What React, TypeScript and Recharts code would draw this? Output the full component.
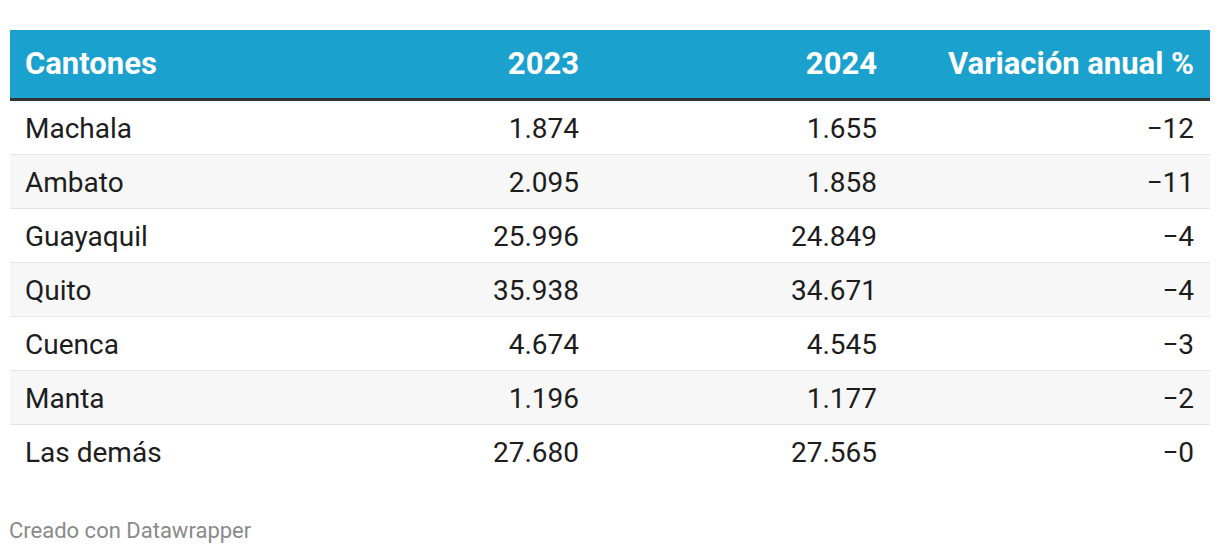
import React from "react";
import { BarChart, Bar, XAxis, YAxis, LabelList, Customized } from "recharts";

const cantones = ["Machala", "Ambato", "Guayaquil", "Quito", "Cuenca", "Manta", "Las demás"];
const valores2023 = [1874, 2095, 25996, 35938, 4674, 1196, 27680];
const valores2024 = [1655, 1858, 24849, 34671, 4545, 1177, 27565];
const variacion = [-12, -11, -4, -4, -3, -2, -0];
const encabezados = ["Cantones", "2023", "2024", "Variación anual %"];
const pie = "Creado con Datawrapper";

const data = cantones.map((c, i) => ({
  canton: c,
  y2023: valores2023[i],
  y2024: valores2024[i],
  variacion: variacion[i],
}));

const W = 1220;
const H = 554;
const FONT = "Roboto, 'Noto Sans', sans-serif";
const TEXT = "#1d1d1d";
const BLUE = "#1aa1cd";

const colX = [25, 579, 877, 1194];
const colAnchor: ("start" | "end")[] = ["start", "end", "end", "end"];

const fmtMiles = (v: number) => String(Math.abs(v)).replace(/\B(?=(\d{3})+(?!\d))/g, ".");
const fmtVar = (v: number) => (v < 0 || Object.is(v, -0) ? "\u2212" : "") + String(Math.abs(v));

const RowBg = (props: any) => {
  const { x, y, width, height, index } = props;
  const fill = index % 2 === 1 ? "#f7f7f7" : "#ffffff";
  return (
    <g>
      <rect x={x} y={y} width={width} height={height} fill={fill} />
      {index < cantones.length - 1 && (
        <rect x={x} y={y + height - 1} width={width} height={1.5} fill="#e6e6e6" />
      )}
    </g>
  );
};

const cell = (col: number, fmt: (v: any) => string) => (props: any) => {
  const { y, height, value } = props;
  return (
    <text
      x={colX[col]}
      y={y + height / 2 + 10.3}
      textAnchor={colAnchor[col]}
      fontFamily={FONT}
      fontSize={28}
      fill={TEXT}
    >
      {fmt(value)}
    </text>
  );
};

const Header = () => (
  <g>
    <rect x={10} y={30} width={1200} height={68} fill={BLUE} />
    <rect x={10} y={98} width={1200} height={3} fill="#333333" />
    {encabezados.map((h, i) => (
      <text
        key={h}
        x={colX[i]}
        y={73.5}
        textAnchor={colAnchor[i]}
        fontFamily={FONT}
        fontWeight={700}
        fontSize={31}
        fill="#ffffff"
      >
        {h}
      </text>
    ))}
    <text x={9} y={537.7} fontFamily={FONT} fontSize={22} fill="#8a8a8a">
      {pie}
    </text>
  </g>
);

export default function App() {
  return (
    <div style={{ position: "absolute", left: 0, top: 0, width: W, height: H, background: "#fff" }}>
      <BarChart
        width={W}
        height={H}
        data={data}
        layout="vertical"
        barCategoryGap={0}
        margin={{ top: 101, right: 10, bottom: 75, left: 10 }}
      >
        <XAxis type="number" hide domain={[0, "dataMax"]} />
        <YAxis type="category" dataKey="canton" hide />
        <Bar
          dataKey="y2023"
          fill="transparent"
          isAnimationActive={false}
          background={RowBg}
        >
          <LabelList dataKey="canton" content={cell(0, (v) => String(v))} />
          <LabelList dataKey="y2023" content={cell(1, fmtMiles)} />
          <LabelList dataKey="y2024" content={cell(2, fmtMiles)} />
          <LabelList dataKey="variacion" content={cell(3, fmtVar)} />
        </Bar>
        <Customized component={Header} />
      </BarChart>
    </div>
  );
}
